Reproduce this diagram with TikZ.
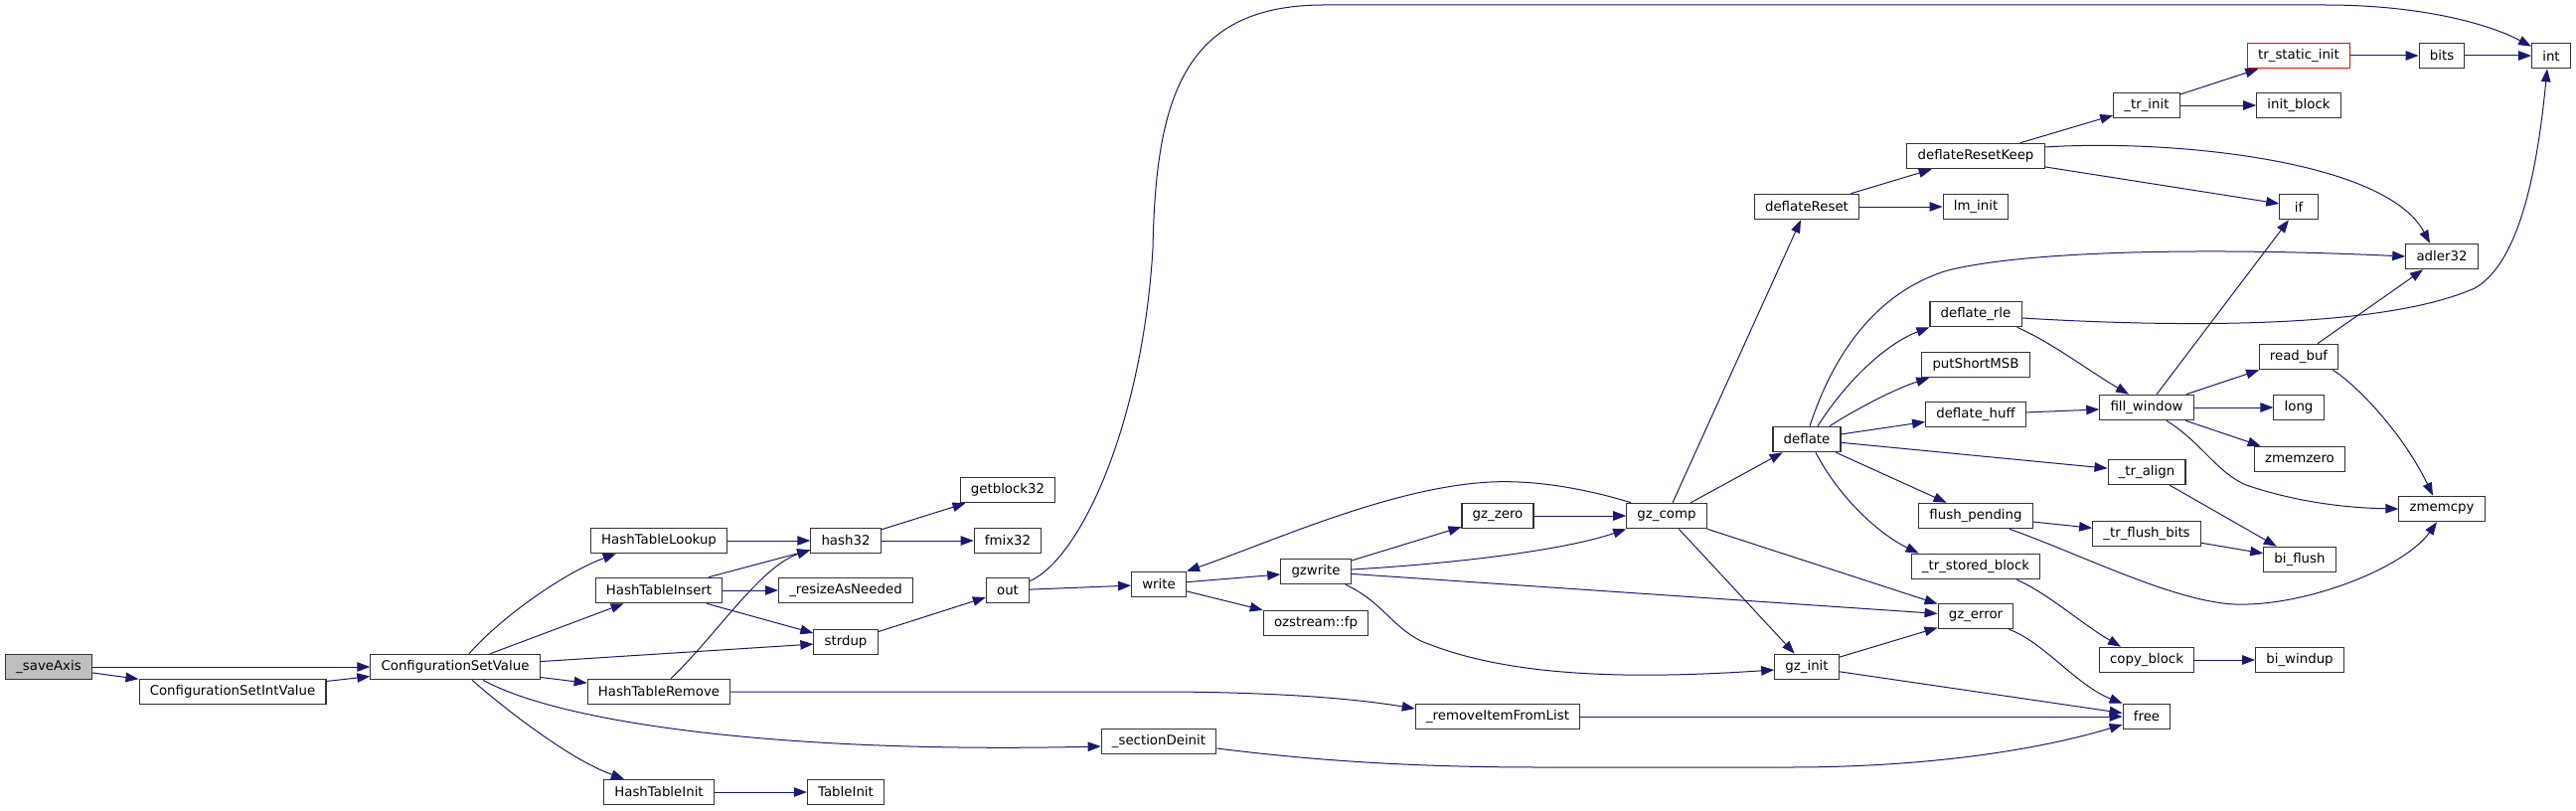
\documentclass[tikz,border=0pt]{standalone}
\usepackage{fontspec}
\setmainfont{DejaVu Sans}
\usetikzlibrary{arrows.meta}
\definecolor{edgeblue}{RGB}{25,25,112}
\definecolor{rootgrey}{RGB}{191,191,191}

\begin{document}
\begin{tikzpicture}[
  x=1pt, y=-1pt,
  font=\fontsize{13.33}{16}\selectfont,
  fn/.style={draw=black!80, line width=1.1pt, fill=white, inner xsep=10.7pt,
             inner ysep=2pt, minimum height=25.5pt, minimum width=38.4pt},
  root/.style={fn, fill=rootgrey},
  trunc/.style={fn, draw=red},
  call/.style={-{Triangle[length=13pt,width=9.5pt]}, draw=edgeblue, line width=1pt}
]
\path[fill=white] (0,0) rectangle (2592,816);
\useasboundingbox (0,0) rectangle (2592,816);

% call graph nodes, one column per rank
\node[root] (saveaxis) at (49,671)  {\_saveAxis};
\node[fn] (csetint)    at (234,696)  {ConfigurationSetIntValue};
\node[fn] (csetval)    at (458,671)  {ConfigurationSetValue};
\node[fn] (htlookup)   at (663,544)  {HashTableLookup};
\node[fn] (htinsert)   at (663,594)  {HashTableInsert};
\node[fn] (htremove)   at (663,696)  {HashTableRemove};
\node[fn] (htinit)     at (663,797)  {HashTableInit};
\node[fn] (hash32)     at (851,544)  {hash32};
\node[fn] (resize)     at (851,594)  {\_resizeAsNeeded};
\node[fn] (strdup)     at (851,646)  {strdup};
\node[fn] (tableinit)  at (851,797)  {TableInit};
\node[fn] (getblock)   at (1014,493) {getblock32};
\node[fn] (fmix)       at (1014,544) {fmix32};
\node[fn] (out)        at (1014,594) {out};
\node[fn] (write)      at (1166,588) {write};
\node[fn] (secdeinit)  at (1166,746) {\_sectionDeinit};
\node[fn] (gzwrite)    at (1324,575) {gzwrite};
\node[fn] (ozfp)       at (1324,627) {ozstream::fp};
\node[fn] (gzzero)     at (1507,519) {gz\_zero};
\node[fn] (rmitem)     at (1507,721) {\_removeItemFromList};
\node[fn] (gzcomp)     at (1677,519) {gz\_comp};
\node[fn] (dreset)     at (1818,208) {deflateReset};
\node[fn] (deflate)    at (1818,442) {deflate};
\node[fn] (gzinit)     at (1818,671) {gz\_init};
\node[fn] (dresetkeep) at (1988,157) {deflateResetKeep};
\node[fn] (lminit)     at (1988,208) {lm\_init};
\node[fn] (drle)       at (1988,316) {deflate\_rle};
\node[fn] (putmsb)     at (1988,367) {putShortMSB};
\node[fn] (dhuff)      at (1988,417) {deflate\_huff};
\node[fn] (flushpend)  at (1988,519) {flush\_pending};
\node[fn] (storedblk)  at (1988,570) {\_tr\_stored\_block};
\node[fn] (gzerror)    at (1988,620) {gz\_error};
\node[fn] (trinit)     at (2160,106) {\_tr\_init};
\node[fn] (fillwin)    at (2160,410) {fill\_window};
\node[fn] (tralign)    at (2160,475) {\_tr\_align};
\node[fn] (flushbits)  at (2160,537) {\_tr\_flush\_bits};
\node[fn] (copyblk)    at (2160,664) {copy\_block};
\node[fn] (free)       at (2160,721) {free};
\node[trunc] (staticinit) at (2313,56) {tr\_static\_init};
\node[fn] (initblk)    at (2313,106) {init\_block};
\node[fn] (ifn)        at (2313,208) {if};
\node[fn] (readbuf)    at (2313,359) {read\_buf};
\node[fn] (long)       at (2313,410) {long};
\node[fn] (zmemzero)   at (2314,462) {zmemzero};
\node[fn] (biflush)    at (2314,563) {bi\_flush};
\node[fn] (biwindup)   at (2314,664) {bi\_windup};
\node[fn] (bits)       at (2457,56)  {bits};
\node[fn] (adler)      at (2457,258) {adler32};
\node[fn] (zmemcpy)    at (2457,512) {zmemcpy};
\node[fn] (int)        at (2567,56)  {int};

% straight calls
\draw[call] (saveaxis) -- (csetval);
\draw[call] (saveaxis) -- (csetint);
\draw[call] (csetint) -- (csetval);
\draw[call] (csetval) -- (htinsert);
\draw[call] (csetval) -- (strdup);
\draw[call] (csetval) -- (htremove);
\draw[call] (htlookup) -- (hash32);
\draw[call] (htinsert) -- (hash32);
\draw[call] (htinsert) -- (resize);
\draw[call] (htinsert) -- (strdup);
\draw[call] (htinit) -- (tableinit);
\draw[call] (hash32) -- (getblock);
\draw[call] (hash32) -- (fmix);
\draw[call] (strdup) -- (out);
\draw[call] (out) -- (write);
\draw[call] (write) -- (gzwrite);
\draw[call] (write) -- (ozfp);
\draw[call] (gzwrite) -- (gzzero);
\draw[call] (gzwrite) -- (gzerror);
\draw[call] (gzzero) -- (gzcomp);
\draw[call] (gzcomp) -- (dreset);
\draw[call] (gzcomp) -- (deflate);
\draw[call] (gzcomp) -- (gzerror);
\draw[call] (gzcomp) -- (gzinit);
\draw[call] (gzinit) -- (gzerror);
\draw[call] (gzinit) -- (free);
\draw[call] (rmitem) -- (free);
\draw[call] (dreset) -- (dresetkeep);
\draw[call] (dreset) -- (lminit);
\draw[call] (dresetkeep) -- (trinit);
\draw[call] (dresetkeep) -- (ifn);
\draw[call] (trinit) -- (staticinit);
\draw[call] (trinit) -- (initblk);
\draw[call] (staticinit) -- (bits);
\draw[call] (bits) -- (int);
\draw[call] (deflate) -- (dhuff);
\draw[call] (deflate) -- (tralign);
\draw[call] (deflate) -- (flushpend);
\draw[call] (dhuff) -- (fillwin);
\draw[call] (fillwin) -- (ifn);
\draw[call] (fillwin) -- (readbuf);
\draw[call] (fillwin) -- (long);
\draw[call] (fillwin) -- (zmemzero);
\draw[call] (readbuf) -- (adler);
\draw[call] (tralign) -- (biflush);
\draw[call] (flushpend) -- (flushbits);
\draw[call] (flushbits) -- (biflush);
\draw[call] (copyblk) -- (biwindup);

% curved calls
\draw[call] ([xshift=14pt]csetval.north) .. controls (505,620) and (570,575) .. ([xshift=26pt]htlookup.south west);
\draw[call] ([xshift=17pt]csetval.south) .. controls (510,715) and (575,765) .. ([xshift=21pt]htinit.north west);
\draw[call] ([xshift=28pt]csetval.south) .. controls (570,730) and (800,758) .. ([yshift=-5pt]secdeinit.west);
\draw[call] ([xshift=12pt]htremove.north) .. controls (720,640) and (765,570) .. ([yshift=4pt]hash32.south west);
\draw[call] (htremove.east) -- (1180,696) .. controls (1300,697) and (1370,704) .. ([yshift=8pt]rmitem.west);
\draw[call] ([yshift=-4pt]out.north east) .. controls (1090,560) and (1150,420) .. (1160,250)
      .. controls (1163,100) and (1190,6) .. (1330,5) -- (2340,5)
      .. controls (2430,5) and (2500,22) .. ([yshift=-4pt]int.north west);
\draw[call] ([xshift=-36pt]gzcomp.north) .. controls (1590,490) and (1540,483) .. (1500,485)
      .. controls (1400,490) and (1280,545) .. (write.north east);
\draw[call] ([yshift=2pt]gzwrite.east) .. controls (1450,568) and (1570,555) .. (gzcomp.south west);
\draw[call] ([xshift=30pt]gzwrite.south) .. controls (1390,605) and (1400,630) .. (1430,645)
      .. controls (1520,683) and (1650,683) .. ([yshift=-3pt]gzinit.west);
\draw[call] ([xshift=-5pt]gzerror.south east) .. controls (2055,645) and (2090,690) .. (free.north west);
\draw[call] ([yshift=-7pt]secdeinit.east) .. controls (1320,765) and (1420,772) .. (1550,772) -- (1800,772)
      .. controls (1950,772) and (2060,752) .. ([yshift=-8pt]free.west);
\draw[call] ([xshift=3pt]deflate.north) .. controls (1850,340) and (1900,290) .. (1960,272)
      .. controls (2050,250) and (2250,250) .. (adler.west);
\draw[call] ([xshift=11pt]deflate.north) .. controls (1860,380) and (1900,345) .. (drle.south west);
\draw[call] ([xshift=23pt]deflate.north) .. controls (1870,410) and (1910,390) .. ([xshift=8pt]putmsb.south west);
\draw[call] ([xshift=9pt]deflate.south) .. controls (1850,500) and (1890,537) .. ([xshift=8pt]storedblk.north west);
\draw[call] ([yshift=9pt]dresetkeep.east) .. controls (2180,140) and (2400,160) .. ([xshift=-12pt]adler.north);
\draw[call] ([yshift=-4pt]drle.east) .. controls (2200,330) and (2400,330) .. (2490,290)
      .. controls (2540,262) and (2555,150) .. ([xshift=-4pt]int.south);
\draw[call] ([xshift=-5pt]drle.south east) .. controls (2065,345) and (2100,372) .. ([xshift=-18pt]fillwin.north);
\draw[call] ([xshift=20pt]fillwin.south) .. controls (2215,445) and (2230,475) .. (2260,488)
      .. controls (2310,505) and (2360,511) .. (zmemcpy.west);
\draw[call] ([xshift=-6pt]readbuf.south east) .. controls (2375,390) and (2420,440) .. ([xshift=-9pt]zmemcpy.north);
\draw[call] ([xshift=34pt]flushpend.south) .. controls (2100,560) and (2200,612) .. (2262,608)
      .. controls (2330,606) and (2420,570) .. ([xshift=-5pt]zmemcpy.south);
\draw[call] ([xshift=-24pt]storedblk.south east) .. controls (2062,598) and (2095,628) .. ([xshift=-26pt]copyblk.north);
\end{tikzpicture}
\end{document}
